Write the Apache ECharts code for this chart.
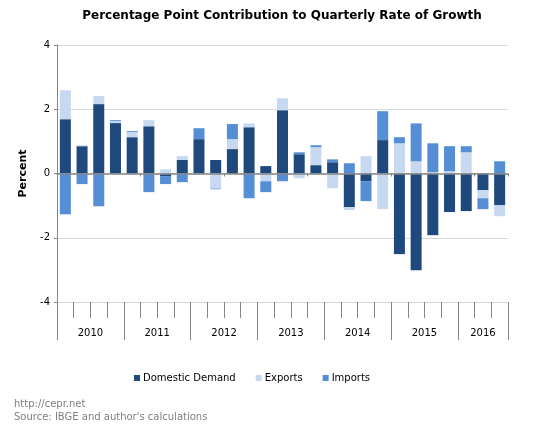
<!DOCTYPE html>
<html>
<head>
<meta charset="utf-8">
<script src="https://cdn.jsdelivr.net/npm/echarts@6/dist/echarts.min.js"></script>
<style>html,body{margin:0;padding:0;background:#fff}#c{width:550px;height:440px}</style>
</head>
<body>
<div id="c"></div>
<script>
const quarters = ['2010 Q1','2010 Q2','2010 Q3','2010 Q4','2011 Q1','2011 Q2','2011 Q3','2011 Q4','2012 Q1','2012 Q2','2012 Q3','2012 Q4','2013 Q1','2013 Q2','2013 Q3','2013 Q4','2014 Q1','2014 Q2','2014 Q3','2014 Q4','2015 Q1','2015 Q2','2015 Q3','2015 Q4','2016 Q1','2016 Q2','2016 Q3'];
const years = ['2010','2011','2012','2013','2014','2015','2016'];
const quartersPerYear = [4,4,4,4,4,4,3];
const domestic = [1.69,0.85,2.16,1.57, 1.13,1.47,-0.08,0.42, 1.07,0.42,0.76,1.44, 0.23,1.97,0.60,0.26, 0.35,-1.05,-0.24,1.04, -2.51,-3.01,-1.92,-1.20, -1.17,-0.52,-0.99];
const exportsData = [0.90,0.03,0.25,0.06, 0.16,0.19,0.13,0.12, -0.04,-0.47,0.31,0.12, -0.24,0.37,-0.15,0.56, -0.46,-0.09,0.54,-1.11, 0.94,0.38,0.04,0.07, 0.66,-0.25,-0.34];
const importsData = [-1.27,-0.33,-1.02,0.03, 0.03,-0.58,-0.25,-0.27, 0.34,-0.02,0.47,-0.77, -0.34,-0.24,0.06,0.06, 0.09,0.32,-0.62,0.90, 0.19,1.18,0.90,0.78, 0.19,-0.34,0.38];
const yTicks = [-4,-2,0,2,4];

// derived positions on the category scale (0..N)
const N = quarters.length;
const yearBounds = [0];
quartersPerYear.forEach(q => yearBounds.push(yearBounds[yearBounds.length-1] + q));
const yearCenters = years.map((y,i) => (yearBounds[i] + yearBounds[i+1]) / 2);
const quarterBounds = [];
for (let i = 1; i < N; i++) quarterBounds.push(i);

const FONT = 'DejaVu Sans';
const chart = echarts.init(document.getElementById('c'), null, {renderer:'canvas'});
chart.setOption({
  animation: false,
  textStyle: {fontFamily: FONT},
  title: [
    {text: 'Percentage Point Contribution to Quarterly Rate of Growth', left: 282, top: 10, padding: 0, textAlign: 'center',
     textStyle: {fontFamily: FONT, fontSize: 12, fontWeight: 'bold', color: '#000'}},
    {text: 'http://cepr.net\nSource: IBGE and author\'s calculations', left: 14, top: 398, padding: 0,
     textStyle: {fontFamily: FONT, fontSize: 10, fontWeight: 'normal', color: '#7f7f7f', lineHeight: 13}}
  ],
  legend: {
    left: 134, top: 373, padding: 0, icon: 'rect', itemWidth: 6, itemHeight: 6, itemGap: 20,
    textStyle: {fontFamily: FONT, fontSize: 10, color: '#000', padding: [0,0,0,-2]},
    data: ['Domestic Demand','Exports','Imports']
  },
  grid: {left: 57, right: 42, top: 45, bottom: 138, containLabel: false},
  xAxis: [
    {type: 'category', data: quarters, boundaryGap: true,
     axisLine: {onZero: true, lineStyle: {color: '#868686', width: 1.5}},
     axisTick: {show: true, length: 3, lineStyle: {color: '#868686'}},
     axisLabel: {show: false}, splitLine: {show: false}, z: 10},
    {type: 'value', min: 0, max: N, position: 'bottom',
     axisLine: {show: false},
     axisTick: {show: true, length: 16, customValues: quarterBounds, lineStyle: {color: '#868686'}},
     axisLabel: {show: false}, splitLine: {show: false}},
    {type: 'value', min: 0, max: N, position: 'bottom',
     axisLine: {show: false},
     axisTick: {show: true, length: 38, customValues: yearBounds, lineStyle: {color: '#868686'}},
     axisLabel: {show: true, customValues: yearCenters, margin: 26, fontFamily: FONT, fontSize: 10, color: '#000',
       formatter: v => { const i = yearCenters.indexOf(v); return i >= 0 ? years[i] : ''; }},
     splitLine: {show: false}}
  ],
  yAxis: {
    type: 'value', min: yTicks[0], max: yTicks[yTicks.length-1], interval: 2,
    name: 'Percent', nameLocation: 'middle', nameGap: 26, nameRotate: 90,
    nameTextStyle: {fontFamily: FONT, fontSize: 11, fontWeight: 'bold', color: '#000'},
    axisLine: {show: true, lineStyle: {color: '#868686'}},
    axisTick: {show: true, length: 3, lineStyle: {color: '#868686'}},
    axisLabel: {fontFamily: FONT, fontSize: 10, color: '#000', margin: 7},
    splitLine: {show: true, lineStyle: {color: '#d9d9d9', width: 1}}
  },
  series: [
    {name: 'Domestic Demand', type: 'bar', stack: 'total', xAxisIndex: 0, data: domestic, barWidth: 11,
     itemStyle: {color: '#1f497d'}},
    {name: 'Exports', type: 'bar', stack: 'total', xAxisIndex: 0, data: exportsData, barWidth: 11,
     itemStyle: {color: '#c6d9f1'}},
    {name: 'Imports', type: 'bar', stack: 'total', xAxisIndex: 0, data: importsData, barWidth: 11,
     itemStyle: {color: '#558ed5'}}
  ]
});
</script>
</body>
</html>
